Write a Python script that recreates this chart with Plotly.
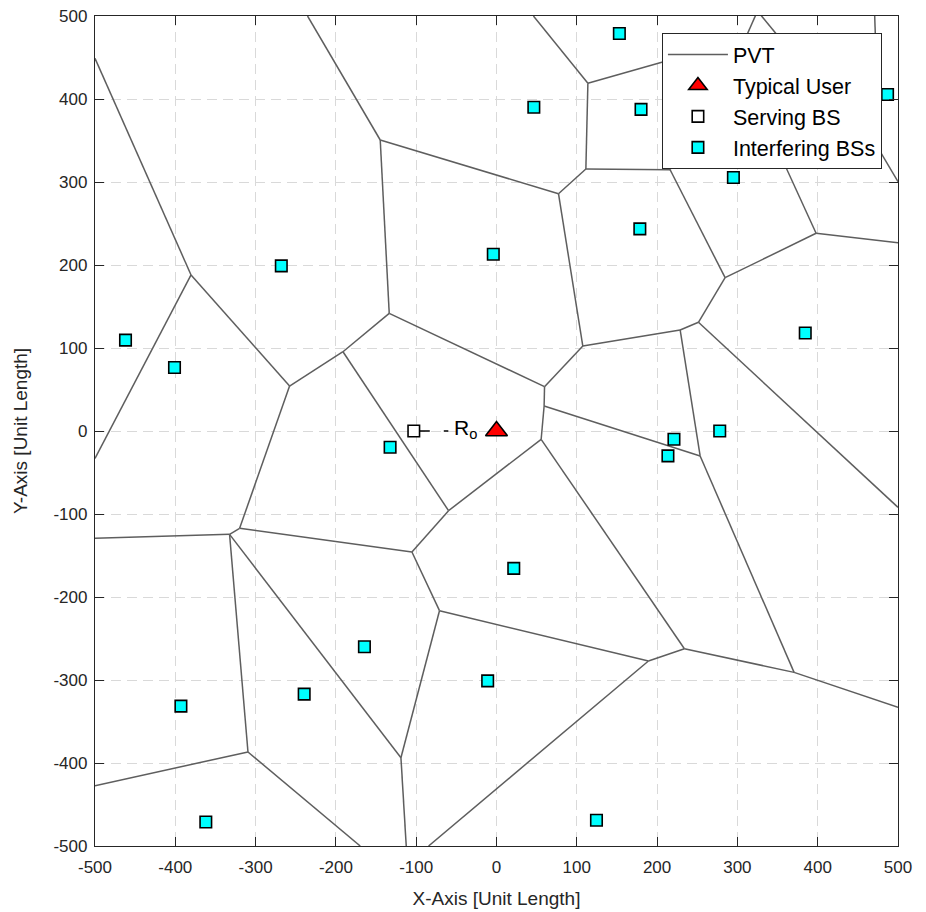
import plotly.graph_objects as go

# ---------------- data ----------------
# Voronoi (PVT) vertices
vx = [-500, -380.4, -500, -257.7, -191.2, -133.6, -144.8, -235.3, 77.2, 59.8,
      59.3, 55.6, -59.7, -105.3, -319.9, -332.4, -500, -309.5, -500, -169.7,
      -71.0, -119.0, -112.4, 189.2, -84.6, 234.0, 370.6, 500, 253.6, 228.7,
      107.5, 251.5, 500, 284.7, 398.0, 500, 216.2, 111.3, 113.8, 46.0,
      310.0, 325.0, 415.0, 330.0, 455.0, 471.0, 473.0, 500]
vy = [449, 188.0, -33, 54.2, 95.5, 141.8, 350.6, 500, 285.9, 53.4,
      30.1, -10.0, -96.0, -145.8, -117.2, -124.5, -129.3, -386.7, -427.3, -500,
      -216.5, -393.6, -500, -277.1, -500, -262.3, -290.8, -333, -30.1, 121.7,
      102.4, 131.0, -92, 184.7, 238.2, 226.9, 314.8, 315.7, 418.9, 500,
      473.0, 506.0, 400.0, 382.0, 374.0, 500, 440.0, 300.4]
# edges as pairs of vertex indices
edge_a = [0, 1, 1, 3, 4, 5, 6, 6, 5, 3, 4, 12, 12, 13, 14, 15, 15, 15, 13, 20,
          20, 21, 17, 17, 23, 23, 25, 25, 26, 26, 11, 10, 10, 9, 30, 30, 29, 29,
          31, 31, 33, 33, 34, 36, 37, 37, 38, 38, 36, 40, 41, 34, 43, 47, 44, 45, 46]
edge_b = [1, 2, 3, 4, 5, 6, 7, 8, 9, 14, 12, 11, 13, 14, 15, 16, 17, 21, 20, 23,
          21, 22, 18, 19, 24, 25, 11, 26, 28, 27, 10, 9, 28, 30, 8, 29, 31, 28,
          32, 33, 36, 34, 35, 37, 8, 38, 39, 40, 40, 41, 42, 43, 42, 44, 42, 46, 44]

# interfering base stations
bs_x = [153, 46.5, 180, 487, 295, 178.5, -4, -268, -462, -401, 384.5, -132.5,
        221, 213.5, 278, 21.5, -164.5, -239.5, -393, -362, -11, 124.5]
bs_y = [479, 390, 387.5, 405.5, 305.5, 243.5, 213, 199, 109.5, 76.5, 118, -19.5,
        -10, -30, 0, -165.5, -260, -317, -331.5, -471, -301, -469]

serving_x = [-103]
serving_y = [0]
user_x = [0]
user_y = [0]
ro_line_x = [-103, -60]
ro_line_y = [0, 0]
ro_label = "R<sub>o</sub>"

tick_vals = [-500, -400, -300, -200, -100, 0, 100, 200, 300, 400, 500]
tick_text = [str(v) for v in tick_vals]

# ---------------- figure ----------------
ex, ey = [], []
for a, b in zip(edge_a, edge_b):
    ex += [vx[a], vx[b], None]
    ey += [vy[a], vy[b], None]

FONT = "Liberation Sans, Arial, Helvetica, sans-serif"
fig = go.Figure()
fig.add_trace(go.Scatter(x=ex, y=ey, mode="lines", name="PVT",
                         line=dict(color="#5e5e5e", width=1.5), legendrank=1,
                         hoverinfo="skip"))
fig.add_trace(go.Scatter(x=ro_line_x, y=ro_line_y, mode="lines", showlegend=False,
                         line=dict(color="black", width=1.3, dash="16px,14px")))
fig.add_trace(go.Scatter(x=bs_x, y=bs_y, mode="markers", name="Interfering BSs",
                         marker=dict(symbol="square", size=11.5, color="#00FFFF",
                                     line=dict(color="black", width=1.6)),
                         legendrank=4))
fig.add_trace(go.Scatter(x=serving_x, y=serving_y, mode="markers", name="Serving BS",
                         marker=dict(symbol="square", size=11.5, color="white",
                                     line=dict(color="black", width=1.6)),
                         legendrank=3))
fig.add_trace(go.Scatter(x=user_x, y=user_y, mode="markers", name="Typical User",
                         marker=dict(symbol="triangle-up", size=19, color="#FF0000",
                                     line=dict(color="black", width=1.6)),
                         legendrank=2))

fig.add_annotation(x=-38, y=3, text=ro_label, showarrow=False,
                   font=dict(family=FONT, size=21, color="black"))

axis_common = dict(
    tickmode="array", tickvals=tick_vals, ticktext=tick_text,
    ticks="inside", ticklen=9, tickwidth=1, tickcolor="#262626",
    showline=True, linecolor="#262626", linewidth=1.3, mirror="ticks",
    showgrid=True, gridcolor="#d9d9d9", gridwidth=1, griddash="10px,6px",
    zeroline=False, tickfont=dict(family=FONT, size=17, color="#262626"),
    automargin=False,
)
fig.update_xaxes(range=[-500, 500], title=dict(text="X-Axis [Unit Length]",
                 font=dict(family=FONT, size=19, color="#262626"), standoff=16),
                 ticklabelstandoff=5, **axis_common)
fig.update_yaxes(range=[-500, 500], title=dict(text="Y-Axis [Unit Length]",
                 font=dict(family=FONT, size=19, color="#262626"), standoff=20),
                 ticklabelstandoff=3, **axis_common)

fig.update_layout(
    width=926, height=912,
    margin=dict(l=95, r=28, t=16, b=66, autoexpand=False),
    plot_bgcolor="white", paper_bgcolor="white",
    showlegend=True,
    legend=dict(x=0.980, y=0.9795, xanchor="right", yanchor="top",
                bgcolor="white", bordercolor="#262626", borderwidth=1,
                font=dict(family=FONT, size=21.5, color="black"),
                itemwidth=60, traceorder="normal"),
)

fig.write_html("out.html")
